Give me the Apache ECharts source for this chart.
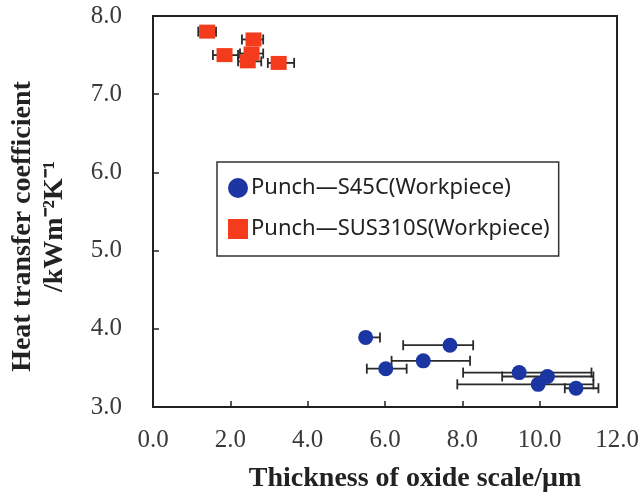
<!DOCTYPE html>
<html>
<head>
<meta charset="utf-8">
<script src="https://cdn.jsdelivr.net/npm/echarts@6/dist/echarts.min.js"></script>
<style>
  html, body { margin: 0; padding: 0; background: #fff; }
  #chart { width: 638px; height: 492px; }
</style>
</head>
<body>
<div id="chart"></div>
<script>
// Punch - SUS310S workpiece: thickness (um), HTC, error bar low/high
const redX = [1.4, 1.85, 2.6, 2.55, 2.45, 3.25];
const redY = [7.8, 7.5, 7.7, 7.52, 7.42, 7.4];
const redLo = [1.17, 1.55, 2.3, 2.25, 2.2, 2.97];
const redHi = [1.63, 2.2, 2.85, 2.85, 2.8, 3.65];

// Punch - S45C workpiece
const blueX = [5.5, 7.68, 6.99, 6.02, 9.47, 10.2, 9.96, 10.94];
const blueY = [3.89, 3.79, 3.59, 3.49, 3.44, 3.39, 3.29, 3.24];
const blueLo = [5.4, 6.47, 6.17, 5.53, 8.02, 9.03, 7.87, 10.65];
const blueHi = [5.87, 8.28, 8.2, 6.56, 11.34, 11.39, 11.39, 11.52];

const xTicks = [0, 2, 4, 6, 8, 10, 12];
const yTicks = [3, 4, 5, 6, 7, 8];

const BLUE = '#1b36a3';
const RED = '#f43c1c';
const SERIF = '"Liberation Serif", "Times New Roman", serif';

function pts(xs, ys) { return xs.map((x, i) => [x, ys[i]]); }
function bars(xs, ys, lo, hi) { return xs.map((x, i) => [x, ys[i], lo[i], hi[i]]); }

function renderErr(params, api) {
  const y = api.value(1);
  const a = api.coord([api.value(2), y]);
  const b = api.coord([api.value(3), y]);
  const cap = 5;
  const style = { stroke: '#2a2a2a', lineWidth: 1.8 };
  return {
    type: 'group',
    children: [
      { type: 'line', shape: { x1: a[0], y1: a[1], x2: b[0], y2: b[1] }, style },
      { type: 'line', shape: { x1: a[0], y1: a[1] - cap, x2: a[0], y2: a[1] + cap }, style },
      { type: 'line', shape: { x1: b[0], y1: b[1] - cap, x2: b[0], y2: b[1] + cap }, style }
    ]
  };
}

const chart = echarts.init(document.getElementById('chart'), null, { renderer: 'canvas' });
chart.setOption({
  animation: false,
  backgroundColor: '#fff',
  grid: {
    left: 153, right: 21, top: 16, bottom: 85,
    outerBoundsMode: 'none',
    show: true, borderColor: '#222', borderWidth: 2
  },
  legend: {
    orient: 'vertical',
    left: 217, top: 162,
    data: [
      { name: 'Punch—S45C(Workpiece)', icon: 'circle' },
      { name: 'Punch—SUS310S(Workpiece)', icon: 'rect' }
    ],
    itemWidth: 20, itemHeight: 20, itemGap: 19,
    padding: [15, 9, 16, 11],
    borderColor: '#333', borderWidth: 1.5,
    textStyle: { fontFamily: '"Noto Sans", sans-serif', fontSize: 22, color: '#222', padding: [0, 0, 0, -2] }
  },
  xAxis: {
    type: 'value',
    min: xTicks[0], max: xTicks[xTicks.length - 1], interval: 2,
    name: 'Thickness of oxide scale/μm',
    nameLocation: 'middle', nameGap: 58,
    nameTextStyle: { fontFamily: SERIF, fontWeight: 'bold', fontSize: 28, color: '#222', padding: [0, 0, 0, 60] },
    axisLine: { show: true, lineStyle: { color: '#222', width: 2 } },
    axisTick: { show: true, inside: true, length: 6, lineStyle: { color: '#222', width: 1.5 } },
    axisLabel: { fontFamily: SERIF, fontSize: 25, color: '#3a3a3a', margin: 21, formatter: v => v.toFixed(1) },
    splitLine: { show: false }
  },
  yAxis: {
    type: 'value',
    min: yTicks[0], max: yTicks[yTicks.length - 1], interval: 1,
    name: 'Heat transfer coefficient\n/kWm⁻²K⁻¹',
    nameLocation: 'middle', nameGap: 82, nameRotate: 90,
    nameTextStyle: { fontFamily: SERIF, fontWeight: 'bold', fontSize: 28, color: '#222', lineHeight: 32, padding: [0, 30, 0, 0] },
    axisLine: { show: true, lineStyle: { color: '#222', width: 2 } },
    axisTick: { show: true, inside: true, length: 6, lineStyle: { color: '#222', width: 1.5 } },
    axisLabel: { fontFamily: SERIF, fontSize: 25, color: '#3a3a3a', margin: 31, formatter: v => v.toFixed(1) },
    splitLine: { show: false }
  },
  series: [
    {
      type: 'custom', name: 'errS45C', renderItem: renderErr,
      data: bars(blueX, blueY, blueLo, blueHi), encode: { x: [0, 2, 3], y: 1 }, z: 1, silent: true
    },
    {
      type: 'custom', name: 'errSUS', renderItem: renderErr,
      data: bars(redX, redY, redLo, redHi), encode: { x: [0, 2, 3], y: 1 }, z: 1, silent: true
    },
    {
      type: 'scatter', name: 'Punch—S45C(Workpiece)',
      data: pts(blueX, blueY), symbol: 'circle', symbolSize: 15,
      itemStyle: { color: BLUE, opacity: 1 }, z: 3
    },
    {
      type: 'scatter', name: 'Punch—SUS310S(Workpiece)',
      data: pts(redX, redY), symbol: 'rect', symbolSize: [16, 14],
      itemStyle: { color: RED, opacity: 1 }, z: 3
    }
  ]
});
</script>
</body>
</html>
